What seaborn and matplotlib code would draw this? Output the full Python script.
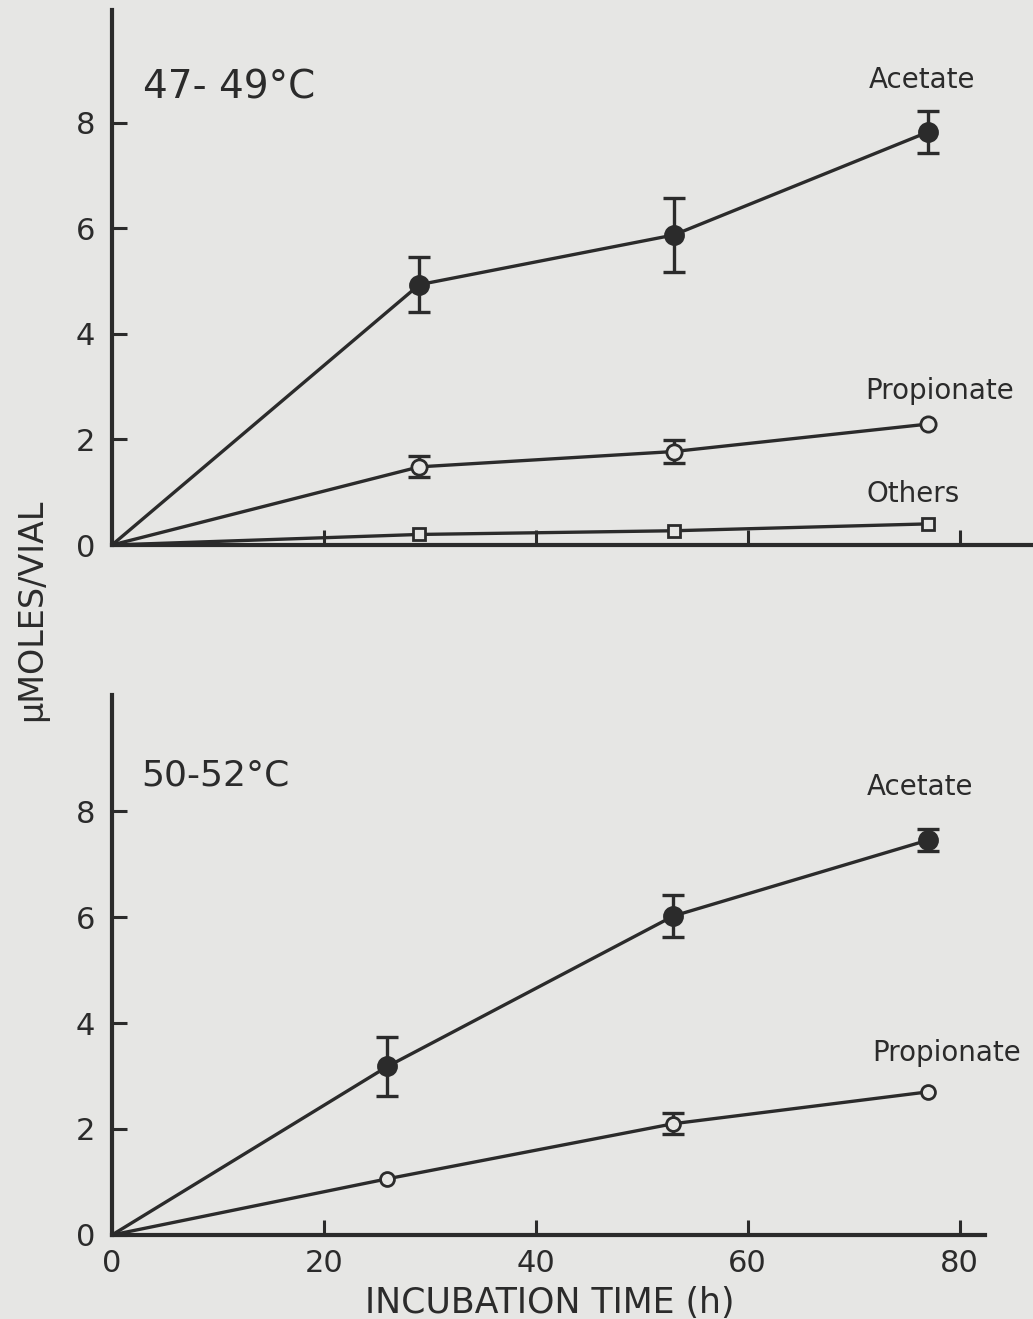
"""
VFA production vs incubation time at two temperature ranges
"""
import matplotlib
matplotlib.use("Agg")
import matplotlib.pyplot as plt
import seaborn as sns

sns.set_theme(style="ticks")
plt.rcParams["font.family"] = ["DejaVu Sans"]

INK = "#2b2b2b"
PAPER = "#e6e6e4"

# 47-49 °C panel
hot_time = [0, 29, 53, 77]
hot_acetate = [0, 4.93, 5.87, 7.82]
hot_acetate_err = [0, 0.52, 0.70, 0.40]
hot_propionate = [0, 1.48, 1.77, 2.29]
hot_propionate_err = [0, 0.20, 0.21, 0]
hot_others = [0, 0.20, 0.27, 0.40]

# 50-52 °C panel
hotter_time = [0, 26, 53, 77]
hotter_acetate = [0, 3.18, 6.02, 7.45]
hotter_acetate_err = [0, 0.55, 0.40, 0.21]
hotter_propionate = [0, 1.06, 2.10, 2.70]
hotter_propionate_err = [0, 0, 0.20, 0]

y_ticks = [0, 2, 4, 6, 8]
x_ticks = [0, 20, 40, 60, 80]

fig = plt.figure(figsize=(10.33, 13.19), dpi=100, facecolor=PAPER)
ax_top = fig.add_axes([0.1084, 0.5868, 0.8916, 0.4056])
ax_bot = fig.add_axes([0.1084, 0.0637, 0.8451, 0.4094])


def draw_series(ax, x, y, err, marker, ms, filled):
    face = INK if filled else PAPER
    sns.lineplot(x=x, y=y, ax=ax, color=INK, lw=2.4, clip_on=False,
                 markers=False, estimator=None, sort=False)
    ax.plot(x[1:], y[1:], ls="none", marker=marker, ms=ms, mfc=face,
            mec=INK, mew=2.0, zorder=4, clip_on=False)
    if err is not None:
        xs = [a for a, e in zip(x, err) if e > 0]
        ys = [b for b, e in zip(y, err) if e > 0]
        es = [e for e in err if e > 0]
        ax.errorbar(xs, ys, yerr=es, fmt="none", ecolor=INK, elinewidth=2.4,
                    capsize=8, capthick=2.4, zorder=3)


def style_axes(ax, xmax, ymax, show_xlabels):
    ax.set_facecolor(PAPER)
    ax.set_xlim(0, xmax)
    ax.set_ylim(0, ymax)
    for side in ["top", "right"]:
        ax.spines[side].set_visible(False)
    for side in ["left", "bottom"]:
        ax.spines[side].set_linewidth(3)
        ax.spines[side].set_color(INK)
    ax.set_yticks(y_ticks)
    ax.set_xticks(x_ticks)
    ax.tick_params(direction="in", length=11, width=2.2, colors=INK,
                   labelsize=22, pad=12)
    ax.tick_params(axis="x", pad=10)
    if not show_xlabels:
        ax.set_xticklabels([])
    ax.set_xlabel("")
    ax.set_ylabel("")


# top panel
draw_series(ax_top, hot_time, hot_acetate, hot_acetate_err, "o", 13, True)
draw_series(ax_top, hot_time, hot_propionate, hot_propionate_err, "o", 11, False)
draw_series(ax_top, hot_time, hot_others, None, "s", 9, False)
style_axes(ax_top, 86.9, 10.13, False)
ax_top.text(2.9, 8.67, "47- 49°C", fontsize=28, color=INK, va="center", ha="left")
ax_top.text(76.4, 8.8, "Acetate", fontsize=20, color=INK, ha="center", va="center")
ax_top.text(78.1, 2.92, "Propionate", fontsize=20, color=INK, ha="center", va="center")
ax_top.text(75.6, 0.97, "Others", fontsize=20, color=INK, ha="center", va="center")

# bottom panel
draw_series(ax_bot, hotter_time, hotter_acetate, hotter_acetate_err, "o", 13, True)
draw_series(ax_bot, hotter_time, hotter_propionate, hotter_propionate_err, "o", 10, False)
style_axes(ax_bot, 82.4, 10.19, True)
ax_bot.text(2.8, 8.68, "50-52°C", fontsize=26, color=INK, va="center", ha="left")
ax_bot.text(76.3, 8.45, "Acetate", fontsize=20, color=INK, ha="center", va="center")
ax_bot.text(78.8, 3.43, "Propionate", fontsize=20, color=INK, ha="center", va="center")

fig.text(0.031, 1 - 610 / 1319, "µMOLES/VIAL", rotation=90, fontsize=24,
         color=INK, ha="center", va="center")
fig.text(550 / 1033, 1 - 1303 / 1319, "INCUBATION TIME (h)", fontsize=25,
         color=INK, ha="center", va="center")

fig.savefig("out.png", dpi=100, facecolor=PAPER)
plt.close(fig)
